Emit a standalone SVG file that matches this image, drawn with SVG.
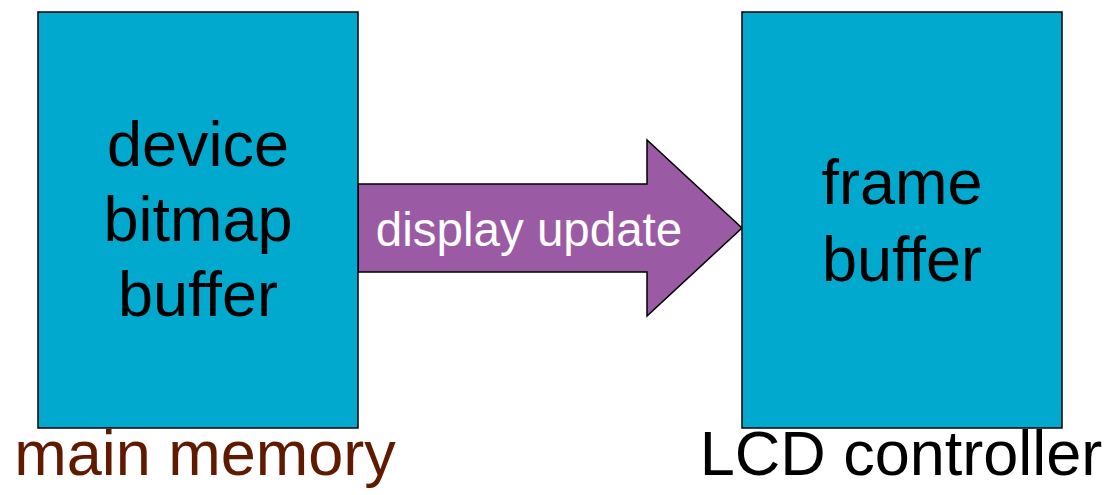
<svg xmlns="http://www.w3.org/2000/svg" width="1111" height="495" viewBox="0 0 1111 495">
  <style>
    .box { fill: #00a9cd; stroke: #000; stroke-width: 1.5; }
    .label { font-family: "Liberation Sans", Arial, sans-serif; font-size: 63px; fill: #000; text-anchor: middle; }
    .caption { font-family: "Liberation Sans", Arial, sans-serif; font-size: 63px; text-anchor: middle; }
    .flow { fill: #9b5aa4; stroke: #000; stroke-width: 1.5; stroke-linejoin: miter; }
    .flowtext { font-family: "Liberation Sans", Arial, sans-serif; font-size: 47.5px; fill: #fff; text-anchor: middle; }
  </style>

  <!-- connector: block arrow from main memory to the LCD controller -->
  <g id="connectors">
    <path class="flow" d="M358,184 L647,184 L647,140 L742,228 L647,316 L647,272 L358,272 Z"/>
    <text class="flowtext" x="529" y="246">display update</text>
  </g>

  <g id="main-memory">
    <rect class="box" x="38" y="12" width="320" height="416"/>
    <text class="label" x="198" y="166">device</text>
    <text class="label" x="198" y="241">bitmap</text>
    <text class="label" x="198" y="316">buffer</text>
    <text class="caption" x="205" y="475" fill="#5f1a00">main memory</text>
  </g>

  <g id="lcd-controller">
    <rect class="box" x="742" y="12" width="320" height="416"/>
    <text class="label" x="902" y="204">frame</text>
    <text class="label" x="902" y="281">buffer</text>
    <text class="caption" x="901" y="475" fill="#000">LCD controller</text>
  </g>
</svg>
